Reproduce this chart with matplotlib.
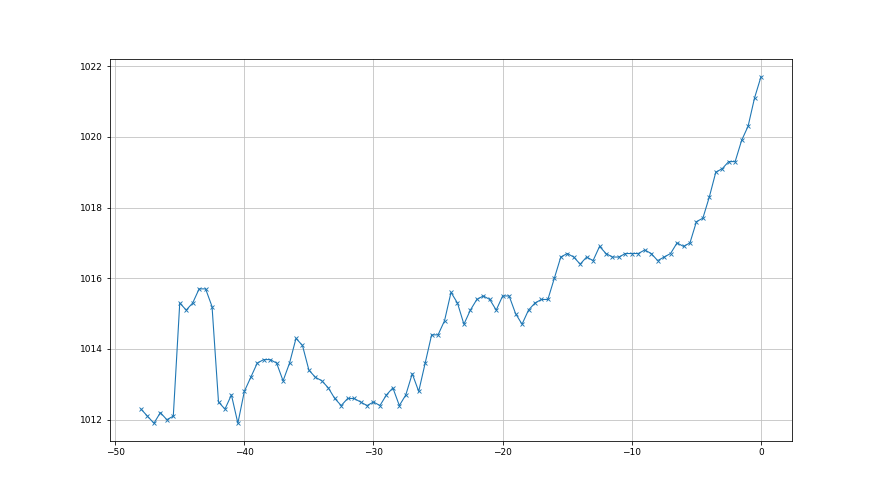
import matplotlib
matplotlib.use("Agg")
import matplotlib.pyplot as plt

hours = [-48, -47.5, -47, -46.5, -46, -45.5, -45, -44.5, -44, -43.5, -43, -42.5,
         -42, -41.5, -41, -40.5, -40, -39.5, -39, -38.5, -38, -37.5, -37, -36.5,
         -36, -35.5, -35, -34.5, -34, -33.5, -33, -32.5, -32, -31.5, -31, -30.5,
         -30, -29.5, -29, -28.5, -28, -27.5, -27, -26.5, -26, -25.5, -25, -24.5,
         -24, -23.5, -23, -22.5, -22, -21.5, -21, -20.5, -20, -19.5, -19, -18.5,
         -18, -17.5, -17, -16.5, -16, -15.5, -15, -14.5, -14, -13.5, -13, -12.5,
         -12, -11.5, -11, -10.5, -10, -9.5, -9, -8.5, -8, -7.5, -7, -6.5,
         -6, -5.5, -5, -4.5, -4, -3.5, -3, -2.5, -2, -1.5, -1, -0.5, 0]

pressure = [1012.3, 1012.1, 1011.9, 1012.2, 1012.0, 1012.1, 1015.3, 1015.1, 1015.3, 1015.7, 1015.7, 1015.2,
            1012.5, 1012.3, 1012.7, 1011.9, 1012.8, 1013.2, 1013.6, 1013.7, 1013.7, 1013.6, 1013.1, 1013.6,
            1014.3, 1014.1, 1013.4, 1013.2, 1013.1, 1012.9, 1012.6, 1012.4, 1012.6, 1012.6, 1012.5, 1012.4,
            1012.5, 1012.4, 1012.7, 1012.9, 1012.4, 1012.7, 1013.3, 1012.8, 1013.6, 1014.4, 1014.4, 1014.8,
            1015.6, 1015.3, 1014.7, 1015.1, 1015.4, 1015.5, 1015.4, 1015.1, 1015.5, 1015.5, 1015.0, 1014.7,
            1015.1, 1015.3, 1015.4, 1015.4, 1016.0, 1016.6, 1016.7, 1016.6, 1016.4, 1016.6, 1016.5, 1016.9,
            1016.7, 1016.6, 1016.6, 1016.7, 1016.7, 1016.7, 1016.8, 1016.7, 1016.5, 1016.6, 1016.7, 1017.0,
            1016.9, 1017.0, 1017.6, 1017.7, 1018.3, 1019.0, 1019.1, 1019.3, 1019.3, 1019.9, 1020.3, 1021.1, 1021.7]

fig = plt.figure(figsize=(880 / 72, 495 / 72), dpi=72)
ax = fig.add_subplot(111)
ax.plot(hours, pressure, marker="x", color="#1f77b4", linewidth=1.1,
        markersize=4, markeredgewidth=0.9)
ax.grid(True, color="#c0c0c0", linewidth=0.8)
ax.set_axisbelow(True)
ax.tick_params(labelsize=9)
fig.savefig("out.png", dpi=72)
